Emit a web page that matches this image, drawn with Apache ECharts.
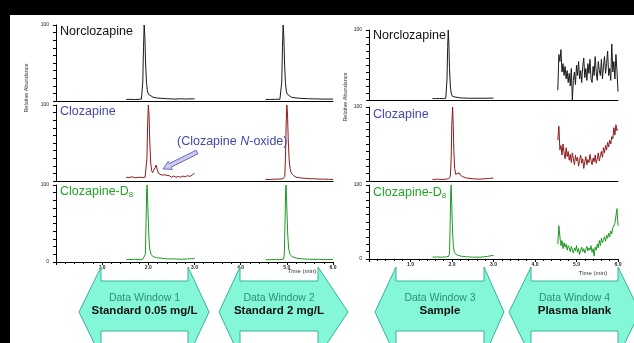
<!DOCTYPE html>
<html>
<head>
<meta charset="utf-8">
<script src="https://cdn.jsdelivr.net/npm/echarts@6/dist/echarts.min.js"></script>
<style>
  html, body { margin: 0; padding: 0; background: #fff; }
  #chart { width: 634px; height: 343px; }
</style>
</head>
<body>
<div id="chart"></div>
<script>
// compound names for the three rows
const compounds = ['Norclozapine', 'Clozapine', 'Clozapine-D8']
const timeTicks = ['1.0', '2.0', '3.0', '4.0', '5.0', '6.0']

// window 1 (standard 0.05 mg/L) and window 2 (standard 2 mg/L), [time, %]
const norW1 = [[1.52, 2], [1.6, 2.2], [1.7, 1.8], [1.8, 2.3], [1.85, 2.5], [1.865, 4], [1.88, 25], [1.895, 70], [1.91, 100], [1.925, 85], [1.94, 50], [1.96, 24], [1.98, 13], [2.0, 9], [2.04, 6.5], [2.1, 5], [2.18, 4], [2.28, 3.5], [2.4, 3], [2.5, 2.8], [2.6, 2.5], [2.7, 3], [2.8, 2.6], [2.9, 2.8], [3.0, 2.8]]
const norW2 = [[4.54, 2], [4.65, 2], [4.75, 2.2], [4.85, 2.3], [4.875, 4], [4.89, 25], [4.905, 70], [4.92, 100], [4.935, 85], [4.95, 50], [4.97, 24], [4.99, 13], [5.01, 9], [5.05, 6.5], [5.1, 5], [5.2, 4], [5.3, 3.5], [5.45, 3], [5.6, 2.8], [5.8, 2.5], [6.0, 2.5]]
const clzW1 = [[1.52, 5], [1.58, 4.5], [1.65, 5.5], [1.72, 4.2], [1.8, 5], [1.88, 4.5], [1.93, 5], [1.955, 7], [1.97, 30], [1.985, 75], [2.0, 100], [2.015, 88], [2.03, 55], [2.05, 25], [2.07, 14], [2.09, 11], [2.12, 13], [2.15, 18], [2.17, 21], [2.19, 15], [2.22, 10], [2.25, 12], [2.28, 8], [2.32, 7], [2.36, 8], [2.4, 6], [2.45, 7], [2.5, 5], [2.55, 6.5], [2.6, 5], [2.65, 6], [2.7, 5], [2.75, 6.5], [2.8, 5.5], [2.85, 7], [2.9, 6], [2.95, 8], [3.0, 10]]
const clzW2 = [[4.54, 2], [4.65, 2], [4.75, 2.5], [4.85, 2.5], [4.92, 3], [4.955, 6], [4.97, 30], [4.985, 75], [5.0, 100], [5.015, 88], [5.03, 55], [5.05, 28], [5.07, 16], [5.1, 10], [5.15, 7], [5.2, 5], [5.3, 4], [5.4, 3.5], [5.5, 3], [5.6, 3], [5.7, 2.5], [5.8, 2.5], [5.9, 2.2], [6.0, 2]]
const d8W1 = [[1.52, 3.5], [1.6, 3.2], [1.7, 3.5], [1.8, 3], [1.88, 3.5], [1.92, 4], [1.935, 10], [1.95, 50], [1.965, 95], [1.975, 100], [1.99, 70], [2.01, 35], [2.03, 17], [2.06, 10], [2.1, 7], [2.18, 5.5], [2.28, 5], [2.4, 4], [2.55, 4], [2.7, 3.5], [2.85, 4], [3.0, 4.5]]
const d8W2 = [[4.54, 3], [4.65, 3], [4.75, 3.2], [4.85, 3], [4.93, 4], [4.945, 10], [4.96, 50], [4.975, 95], [4.985, 100], [5.0, 70], [5.02, 35], [5.04, 17], [5.07, 10], [5.11, 7], [5.2, 5], [5.35, 4], [5.5, 3.5], [5.7, 3.5], [5.85, 3], [6.0, 3.5]]

// window 3 (sample)
const norW3 = [[1.53, 2], [1.6, 2], [1.7, 2.2], [1.8, 2], [1.85, 2.5], [1.865, 5], [1.88, 30], [1.895, 75], [1.91, 100], [1.925, 80], [1.94, 45], [1.96, 20], [1.98, 10], [2.0, 6], [2.05, 4.5], [2.1, 4], [2.2, 3], [2.4, 2.5], [2.6, 2.5], [2.8, 2.5], [3.0, 2.8]]
const clzW3 = [[1.53, 2], [1.65, 2.5], [1.75, 2], [1.85, 2.5], [1.92, 3], [1.96, 6], [1.98, 30], [1.995, 75], [2.015, 100], [2.03, 75], [2.045, 40], [2.065, 17], [2.09, 9], [2.13, 9], [2.17, 11], [2.2, 8], [2.25, 6], [2.35, 4], [2.5, 3], [2.65, 2.5], [2.8, 3], [2.9, 3.5], [3.0, 4]]
const d8W3 = [[1.53, 2.5], [1.65, 2.8], [1.75, 2.5], [1.85, 2.8], [1.92, 3.5], [1.94, 8], [1.955, 45], [1.97, 92], [1.98, 100], [1.995, 70], [2.015, 35], [2.035, 16], [2.06, 9], [2.1, 6], [2.2, 4], [2.35, 3], [2.5, 2.5], [2.7, 2.5], [2.85, 3.5], [3.0, 5]]

// window 4 (plasma blank), scans from 4.55 min every 0.025 min
const blankStart = 4.55
const blankStep = 0.025
const norW4 = [14, 65, 55, 72, 40, 52, 35, 48, 30, 42, 25, 38, 20, 45, 0, 28, 40, 22, 50, 35, 55, 30, 42, 25, 48, 60, 32, 45, 28, 52, 38, 58, 30, 25, 48, 35, 62, 40, 28, 55, 42, 35, 58, 30, 48, 62, 38, 52, 70, 35, 45, 28, 80, 40, 55, 30, 65, 42, 12]
const clzW4 = [55, 74, 42, 48, 35, 50, 38, 30, 45, 33, 40, 28, 36, 25, 38, 30, 22, 35, 27, 32, 20, 28, 35, 24, 30, 17, 26, 33, 22, 29, 25, 36, 28, 22, 31, 26, 35, 24, 30, 38, 27, 34, 40, 32, 45, 38, 48, 42, 52, 46, 55, 50, 60, 57, 72, 62, 76, 68, 70]
const d8W4 = [20, 45, 30, 18, 25, 14, 22, 16, 20, 12, 18, 15, 10, 17, 12, 8, 15, 11, 18, 9, 14, 6, 12, 16, 10, 14, 8, 13, 17, 11, 15, 12, 18, 9, 14, 4, 16, 12, 20, 15, 25, 18, 28, 22, 26, 30, 24, 32, 28, 35, 30, 38, 34, 42, 40, 48, 46, 68, 45]

const windowTitles = ['Data Window 1', 'Data Window 2', 'Data Window 3', 'Data Window 4']
const windowSamples = ['Standard 0.05 mg/L', 'Standard 2 mg/L', 'Sample', 'Plasma blank']

const traceColors = ['#1a1a1a', '#8e1b1b', '#1e9a22']
const labelColors = ['#111111', '#4646ae', '#22a526']
const font = 'Liberation Sans, Arial, sans-serif'

// layout of the two panels
const panels = [
  { left: 56, width: 277, rows: [[25, 76], [105, 76], [185, 77]] },
  { left: 369, width: 249, rows: [[30, 70], [107, 74], [185, 74]] }
]

const toBlank = (vals) => vals.map((v, i) => [blankStart + i * blankStep, v])

const traces = [
  [[norW1, norW2], [clzW1, clzW2], [d8W1, d8W2]],
  [[norW3, toBlank(norW4)], [clzW3, toBlank(clzW4)], [d8W3, toBlank(d8W4)]]
]

const grid = []
const xAxis = []
const yAxis = []
const series = []

panels.forEach((p, pi) => {
  p.rows.forEach((r, ri) => {
    const idx = grid.length
    const bottomRow = ri === 2
    grid.push({ left: p.left, width: p.width, top: r[0], height: r[1] })
    xAxis.push({
      type: 'value', gridIndex: idx, min: 0, max: 6, interval: 1,
      axisLine: { show: true, lineStyle: { color: '#000', width: 1 } },
      axisTick: { show: bottomRow, length: 3, lineStyle: { color: '#000' } },
      minorTick: { show: bottomRow, splitNumber: 5, length: 2, lineStyle: { color: '#000' } },
      axisLabel: {
        show: bottomRow, fontSize: 5, fontWeight: 'bold', color: '#222', margin: 3, fontFamily: font,
        formatter: (v) => (v === 0 ? '' : timeTicks[v - 1])
      },
      splitLine: { show: false }
    })
    yAxis.push({
      type: 'value', gridIndex: idx, min: 0, max: 100, interval: 10,
      axisLine: { show: true, lineStyle: { color: '#000', width: 1 } },
      axisTick: { show: true, length: 3, lineStyle: { color: '#000' } },
      axisLabel: {
        fontSize: 5, color: '#222', margin: 7, fontFamily: font,
        formatter: (v) => (v === 100 ? '100' : (bottomRow && v === 0 ? '0' : ''))
      },
      splitLine: { show: false }
    })
    traces[pi][ri].forEach((data) => {
      series.push({
        type: 'line', xAxisIndex: idx, yAxisIndex: idx, data: data,
        showSymbol: false, symbol: 'none', animation: false,
        lineStyle: { color: traceColors[ri], width: 1 }
      })
    })
  })
})

// black frame strips, compound labels inside each row
const graphic = [
  { type: 'rect', shape: { x: 0, y: 0, width: 634, height: 15 }, style: { fill: '#000' }, z: 100 },
  { type: 'rect', shape: { x: 0, y: 0, width: 10, height: 343 }, style: { fill: '#000' }, z: 100 }
]
const labelPos = [
  [[60, 32], [60, 112], [60, 192]],
  [[373, 36], [373, 115], [373, 193]]
]
labelPos.forEach((pp) => {
  pp.forEach((pos, ri) => {
    graphic.push({
      type: 'text', x: pos[0], y: pos[1], z: 50,
      style: {
        text: ri === 2 ? 'Clozapine-D{s|8}' : compounds[ri],
        fill: labelColors[ri], font: '12.5px ' + font, verticalAlign: 'middle',
        rich: { s: { fontSize: 8, fill: labelColors[ri], verticalAlign: 'bottom', padding: [6, 0, 0, 0], fontFamily: font } }
      }
    })
  })
})

// N-oxide annotation
graphic.push({
  type: 'text', x: 177, y: 142, z: 50,
  style: {
    text: '(Clozapine {i|N}-oxide)', fill: labelColors[1], font: '12.5px ' + font, verticalAlign: 'middle',
    rich: { i: { fontStyle: 'italic', fontSize: 12.5, fill: labelColors[1], fontFamily: font } }
  }
})
graphic.push({
  type: 'polygon', z: 50,
  shape: { points: [[197.9, 153.8], [171.1, 167.2], [172.2, 169.4], [163, 169], [168.2, 161.4], [169.3, 163.6], [196.1, 150.2]] },
  style: { fill: '#c9c9f2', stroke: '#4b4bb5', lineWidth: 0.8 }
})

// axis titles
const axisTitles = [[26, 88], [345, 97]]
axisTitles.forEach((pos) => {
  graphic.push({
    type: 'text', x: pos[0], y: pos[1], rotation: Math.PI / 2, z: 50,
    style: { text: 'Relative Abundance', fill: '#333', font: '5.5px ' + font, align: 'center', verticalAlign: 'middle' }
  })
})
const timeTitles = [[302, 271], [593, 273]]
timeTitles.forEach((pos) => {
  graphic.push({
    type: 'text', x: pos[0], y: pos[1], z: 50,
    style: { text: 'Time (min)', fill: '#333', font: '6px ' + font, align: 'center', verticalAlign: 'middle' }
  })
})

// data window arrows
const arrows = [
  [79, 101, 188, 209],
  [219, 240, 318, 348],
  [375, 396, 484, 504],
  [509, 531, 618, 640]
]
const headTop = 267
const bodyTop = 281
const mid = 312
const bodyBot = 331
const headBot = 357
arrows.forEach((a, i) => {
  graphic.push({
    type: 'polygon', z: 40,
    shape: {
      points: [[a[0], mid], [a[1], headTop], [a[1], bodyTop], [a[2], bodyTop], [a[2], headTop], [a[3], mid],
        [a[2], headBot], [a[2], bodyBot], [a[1], bodyBot], [a[1], headBot]]
    },
    style: { fill: '#84f7d8', stroke: '#3bb197', lineWidth: 1 }
  })
  const cx = (a[1] + a[2]) / 2
  graphic.push({
    type: 'text', x: cx, y: 298, z: 45,
    style: { text: windowTitles[i], fill: '#2b8f7c', font: '10.5px ' + font, align: 'center', verticalAlign: 'middle' }
  })
  graphic.push({
    type: 'text', x: cx, y: 311, z: 45,
    style: { text: windowSamples[i], fill: '#111', font: 'bold 11.5px ' + font, align: 'center', verticalAlign: 'middle' }
  })
})

const chart = echarts.init(document.getElementById('chart'), null, { renderer: 'canvas' })
chart.setOption({
  backgroundColor: '#fff',
  animation: false,
  grid: grid,
  xAxis: xAxis,
  yAxis: yAxis,
  series: series,
  graphic: graphic
})
</script>
</body>
</html>
